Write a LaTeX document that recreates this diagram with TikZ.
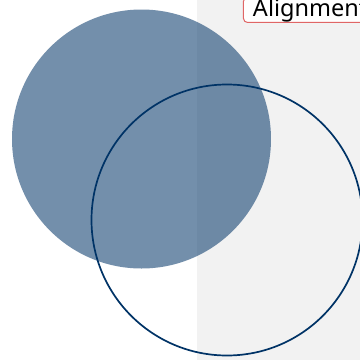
\documentclass[tikz,border=0pt]{standalone}
\usepackage{fontspec}
\setmainfont{Noto Sans}
\definecolor{navy}{HTML}{003366}
\definecolor{panel}{HTML}{F2F2F2}
\definecolor{boxred}{HTML}{E06666}
\tikzset{
  blob/.style={fill=navy, fill opacity=0.55, draw=none},
  ring/.style={draw=navy, line width=1.7pt},
  tag/.style={draw=boxred, line width=1pt, fill=white, rounded corners=4pt,
    font=\fontsize{23.5}{28}\selectfont, inner xsep=9.5pt, inner ysep=0.8pt, anchor=base west}
}
\begin{document}
\begin{tikzpicture}[x=1pt,y=-1pt]
\useasboundingbox (0,0) rectangle (360,360);
\clip (0,0) rectangle (360,360);
\fill[white] (0,0) rectangle (360,360);
\fill[panel] (197,0) rectangle (360,360);
\path[blob] (141.5,139) circle (129.5);
\path[ring] (227,220) circle (135.5);
\node[tag] (label) at (243,16) {Alignment};
\end{tikzpicture}
\end{document}
